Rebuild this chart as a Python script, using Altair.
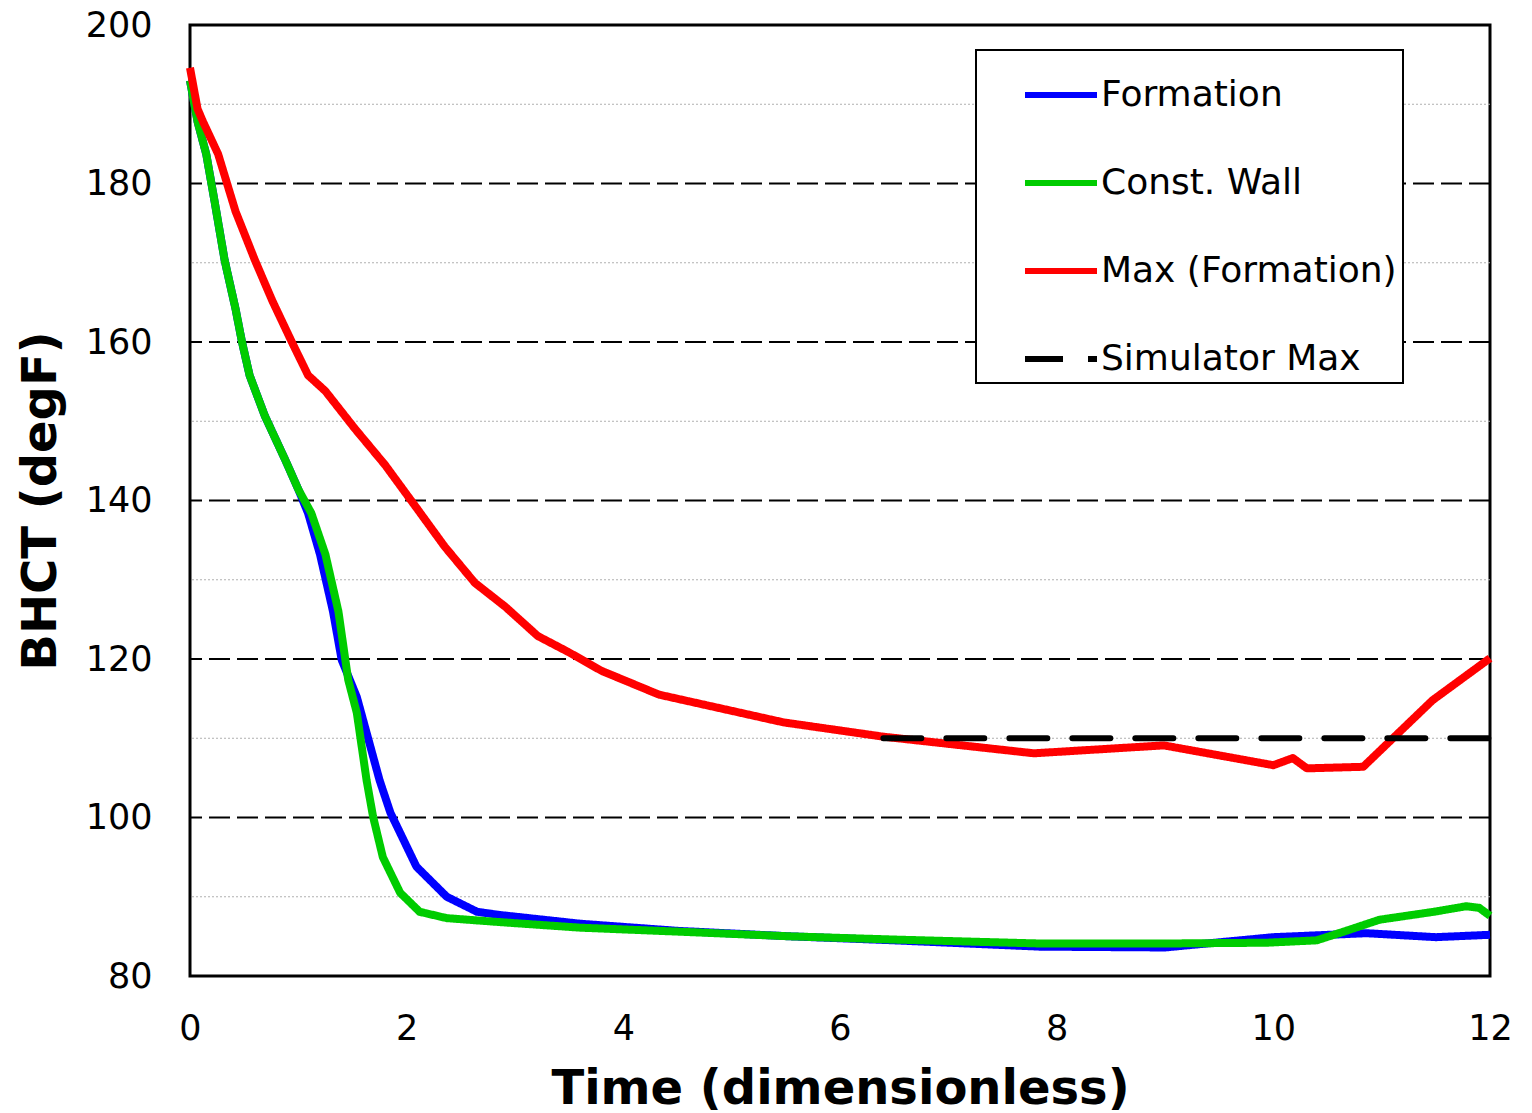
import altair as alt
import pandas as pd

# ---- data ----
series_names = ["Formation", "Const. Wall", "Max (Formation)", "Simulator Max"]
series_colors = ["#0000FF", "#00CC00", "#FF0000", "#000000"]

t_formation = [0, 0.07, 0.15, 0.23, 0.32, 0.42, 0.48, 0.55, 0.69, 0.88, 1.0, 1.09,
               1.2, 1.32, 1.40, 1.54, 1.75, 1.85, 2.09, 2.37, 2.65, 2.86, 3.6, 4.5,
               5.55, 6.5, 7.85, 9.0, 10.0, 10.86, 11.5, 12]
T_formation = [193, 187.8, 183.7, 177.5, 170.3, 164.2, 160, 155.8, 150.7, 145.1, 141.4, 138.4,
               133.2, 126, 119.9, 115.2, 104.7, 100.6, 93.8, 90, 88.1, 87.7, 86.6, 85.7,
               85, 84.5, 83.7, 83.6, 84.9, 85.4, 84.9, 85.2]

t_wall = [0, 0.07, 0.15, 0.23, 0.32, 0.42, 0.48, 0.55, 0.69, 0.88, 1.0, 1.12, 1.25,
          1.37, 1.46, 1.54, 1.63, 1.69, 1.78, 1.94, 2.12, 2.37, 2.86, 3.6, 4.5, 5.55,
          6.5, 7.85, 9.0, 9.94, 10.4, 10.65, 10.98, 11.48, 11.78, 11.9, 12]
T_wall = [193, 187.8, 183.7, 177.5, 170.3, 164.2, 160, 155.8, 150.7, 145.1, 141.4, 138.4, 133.2,
          126, 117.4, 113.2, 104.7, 100.1, 95, 90.5, 88.1, 87.3, 86.8, 86.1, 85.6, 85,
          84.6, 84.1, 84.1, 84.2, 84.5, 85.6, 87.1, 88.1, 88.8, 88.6, 87.6]

t_max = [0, 0.07, 0.12, 0.26, 0.42, 0.6, 0.76, 0.94, 1.09, 1.25, 1.52, 1.8, 2.1, 2.35,
         2.63, 2.91, 3.21, 3.49, 3.8, 4.33, 5.48, 6.4, 7.79, 8.99, 10.0, 10.18, 10.31,
         10.83, 11.47, 12]
T_max = [194.6, 189.4, 187.8, 183.7, 176.5, 170.3, 165.2, 160, 155.8, 153.8, 149.1, 144.5,
         138.9, 134.2, 129.6, 126.6, 122.9, 120.9, 118.5, 115.5, 112, 110.2, 108.1, 109.1,
         106.6, 107.5, 106.2, 106.4, 114.8, 120.1]

t_sim = [6.4, 12]
T_sim = [110, 110]

x_ticks = [0, 2, 4, 6, 8, 10, 12]
y_ticks = [80, 100, 120, 140, 160, 180, 200]
major_grid = [100, 120, 140, 160, 180]
minor_grid = [90, 110, 130, 150, 170, 190]

# ---- tables ----
rows = []
for name, ts, vs in [("Formation", t_formation, T_formation),
                     ("Const. Wall", t_wall, T_wall),
                     ("Max (Formation)", t_max, T_max),
                     ("Simulator Max", t_sim, T_sim)]:
    for i, (t, v) in enumerate(zip(ts, vs)):
        rows.append({"series": name, "t": t, "T": v, "i": i})
df = pd.DataFrame(rows)
df_major = pd.DataFrame({"y": major_grid})
df_minor = pd.DataFrame({"y": minor_grid})

FONT = "DejaVu Sans"

x_scale = alt.Scale(domain=[0, 12], nice=False, zero=False)
y_scale = alt.Scale(domain=[80, 200], nice=False, zero=False)

x_axis = alt.Axis(values=x_ticks, title="Time (dimensionless)", titleFont=FONT,
                  titleFontSize=48, titleFontWeight="bold", titleColor="black",
                  titleX=650, titleY=127, titleBaseline="alphabetic", titleAlign="center",
                  labelFont=FONT, labelFontSize=35, labelColor="black", labelPadding=35,
                  labelFlush=False, ticks=False, domain=False, grid=False)
y_axis = alt.Axis(values=y_ticks, title="BHCT (degF)", titleFont=FONT,
                  titleFontSize=48, titleFontWeight="bold", titleColor="black",
                  titleAngle=270, titleX=-135, titleY=475.5, titleBaseline="alphabetic",
                  titleAlign="center",
                  labelFont=FONT, labelFontSize=35, labelColor="black", labelPadding=38,
                  labelFlush=False, ticks=False, domain=False, grid=False)

color_scale = alt.Scale(domain=series_names, range=series_colors)
dash_scale = alt.Scale(domain=series_names, range=[[1, 0], [1, 0], [1, 0], [38, 25]])

legend = alt.Legend(title=None, orient="none", legendX=786, legendY=25,
                    symbolType="stroke", symbolSize=5184, symbolStrokeWidth=6,
                    labelFont=FONT, labelFontSize=36, labelColor="black", labelLimit=800,
                    labelOffset=1, rowPadding=31, padding=6, symbolOffset=40,
                    strokeColor="black", fillColor="white")

minor = alt.Chart(df_minor).mark_rule(color="#b0b0b0", strokeWidth=1, strokeDash=[2, 2]).encode(
    y=alt.Y("y:Q", scale=y_scale, axis=y_axis))
major = alt.Chart(df_major).mark_rule(color="black", strokeWidth=2, strokeDash=[21, 7]).encode(
    y=alt.Y("y:Q", scale=y_scale, axis=y_axis))


def series_layer(name, width, cap="butt"):
    return alt.Chart(df).transform_filter(alt.datum.series == name).mark_line(
        strokeWidth=width, strokeCap=cap, strokeJoin="round").encode(
        x=alt.X("t:Q", scale=x_scale, axis=x_axis),
        y=alt.Y("T:Q", scale=y_scale, axis=y_axis),
        order=alt.Order("i:Q"),
        color=alt.Color("series:N", scale=color_scale, legend=legend),
        strokeDash=alt.StrokeDash("series:N", scale=dash_scale, legend=legend),
    )


chart = alt.layer(
    minor, major,
    series_layer("Formation", 8),
    series_layer("Const. Wall", 8),
    series_layer("Max (Formation)", 8),
    series_layer("Simulator Max", 6, "round"),
).properties(
    width=1300, height=951,
    padding={"left": 190, "top": 25, "right": 42, "bottom": 137},
    autosize=alt.AutoSizeParams(type="none"),
).configure_view(stroke="black", strokeWidth=3).configure_legend(strokeWidth=2)

chart.save("out.html", embed_options={"renderer": "svg", "actions": False})
